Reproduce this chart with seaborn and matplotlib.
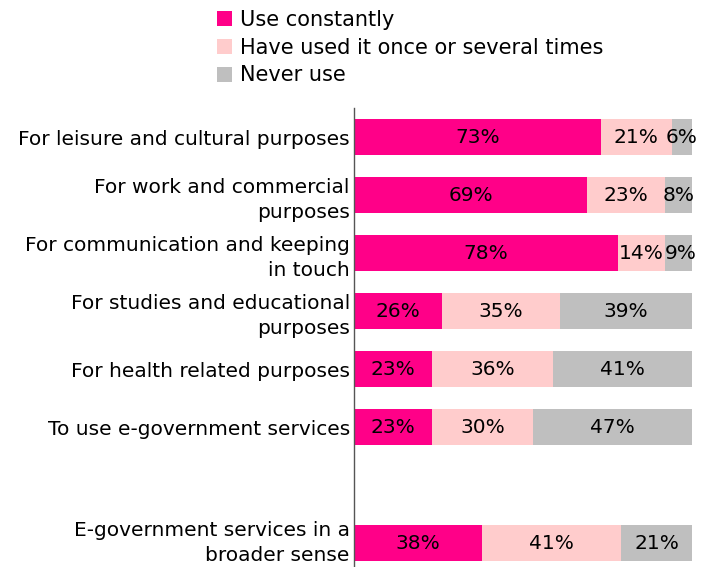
import matplotlib
matplotlib.use("Agg")
import matplotlib.pyplot as plt
import matplotlib.transforms as mtransforms
import seaborn as sns
import pandas as pd
import numpy as np
from matplotlib.patches import Patch

categories = [
    "For leisure and cultural purposes",
    "For work and commercial\npurposes",
    "For communication and keeping\nin touch",
    "For studies and educational\npurposes",
    "For health related purposes",
    "To use e-government services",
    "E-government services in a\nbroader sense",
]
positions = [0, 1, 2, 3, 4, 5, 7]
use_constantly = [73, 69, 78, 26, 23, 23, 38]
used_once = [21, 23, 14, 35, 36, 30, 41]
never_use = [6, 8, 9, 39, 41, 47, 21]
series_names = ["Use constantly", "Have used it once or several times", "Never use"]
colors = ["#FF0088", "#FFCCCC", "#BFBFBF"]

sns.set_theme(style="white")
plt.rcParams['font.family'] = ['DejaVu Sans']
plt.rcParams['text.color'] = 'black'
plt.rcParams['ytick.color'] = 'black'

df = pd.DataFrame({
    "pos": positions,
    "c1": use_constantly,
    "c2": np.array(use_constantly) + np.array(used_once),
    "c3": np.array(use_constantly) + np.array(used_once) + np.array(never_use),
})

fig = plt.figure(figsize=(7.18, 5.67), dpi=100)
ax = fig.add_axes([0.493, 0.0, 0.471, 0.8095])

for col, c in zip(["c3", "c2", "c1"], colors[::-1]):
    sns.barplot(data=df, x=col, y="pos", orient="h", native_scale=True,
                color=c, width=0.62, ax=ax, saturation=1, linewidth=0)

fs = 14.5
for p, a, b, cc in zip(positions, use_constantly, used_once, never_use):
    ax.text(a / 2, p, f"{a}%", ha="center", va="center", fontsize=fs, color="black")
    ax.text(a + b / 2, p, f"{b}%", ha="center", va="center", fontsize=fs, color="black")
    ax.text(a + b + cc / 2, p, f"{cc}%", ha="center", va="center", fontsize=fs, color="black")

ax.set_xlim(0, 100)
ax.set_ylim(7.41, -0.5)
ax.set_yticks(positions)
ax.set_yticklabels(categories, fontsize=fs, linespacing=1.4, color="black")
ax.tick_params(axis="y", length=0, pad=3)
ax.set_xticks([])
ax.set_xlabel("")
ax.set_ylabel("")
for s in ["top", "right", "bottom"]:
    ax.spines[s].set_visible(False)
ax.spines["left"].set_color("#555555")
ax.spines["left"].set_linewidth(1.0)

# nudge the last label up slightly so it stays inside the figure
last = ax.get_yticklabels()[-1]
last.set_transform(last.get_transform() +
                   mtransforms.ScaledTranslation(0, 5 / 100, fig.dpi_scale_trans))

handles = [Patch(facecolor=c, edgecolor="none") for c in colors]
fig.legend(handles, series_names, loc="upper left", bbox_to_anchor=(0.302, 0.983),
           frameon=False, fontsize=15, handlelength=0.75, handleheight=0.75,
           handletextpad=0.35, labelspacing=0.38, borderaxespad=0, borderpad=0)

fig.savefig("out.png", dpi=100)
